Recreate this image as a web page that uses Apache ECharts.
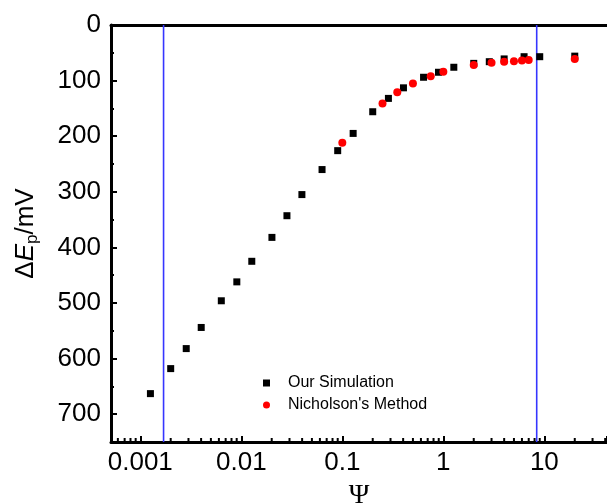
<!DOCTYPE html>
<html><head><meta charset="utf-8">
<script src="https://cdn.jsdelivr.net/npm/echarts@6/dist/echarts.min.js"></script>
<style>html,body{margin:0;padding:0;background:#fff}#c{width:607px;height:504px}</style>
</head><body><div id="c"></div>
<script>
// Our Simulation (black squares)
const simPsi = [0.00126,0.0020,0.00285,0.00401,0.00634,0.00903,0.0127,0.0201,0.0283,0.0398,0.063,0.090,0.128,0.200,0.286,0.403,0.637,0.895,1.27,2.0,2.85,4.0,6.3,9.0,20];
const simDEp = [663,618,582,544,496,462,425,382,343,305,260,226,195,156,132,113,94,85,76,69,66,61,57,57,56];
// Nicholson's Method (red circles)
const nichPsi = [0.1,0.25,0.35,0.5,0.75,1,2,3,4,5,6,7,20];
const nichDEp = [212,141,121,105,92,84,72,68,66,65,64,63,61];
// vertical reference lines
const boundaryPsi = [0.0017, 8.4];
// tick labels
const xTickLabels = ['0.001','0.01','0.1','1','10'];
const yTickLabels = ['0','100','200','300','400','500','600','700'];
// log minor tick multipliers and decades
const minorSteps = [2,3,4,5,6,7,8,9];
const decades = [-4,-3,-2,-1,0,1];

const xMin = 0.000513, xMax = 41.7, yMin = 0, yMax = 750;

const minorTicks = [];
decades.forEach(d => minorSteps.forEach(s => {
  const v = s * Math.pow(10, d);
  if (v > xMin && v < xMax) minorTicks.push([v, yMax]);
}));

const FONT = 'Liberation Sans';
const boundarySeries = boundaryPsi.map((x, i) => ({
  name: 'boundary' + i, type: 'line', silent: true, symbol: 'none', z: 1,
  lineStyle: {color: '#3535ff', width: 1.6},
  data: [[x, yMin], [x, yMax]]
}));

const chart = echarts.init(document.getElementById('c'), null, {renderer:'canvas'});
chart.setOption({
  animation: false,
  backgroundColor: '#fff',
  grid: {left: 111, top: 25, right: 0, bottom: 62, containLabel: false, outerBoundsMode: 'none'},
  legend: {
    orient: 'vertical', left: 258, top: 370,
    itemWidth: 7, itemHeight: 7, itemGap: 6,
    textStyle: {fontFamily: FONT, fontSize: 16, color: '#000', padding: [0,0,0,13], lineHeight: 16},
    data: [{name: 'Our Simulation', icon: 'rect'}, {name: "Nicholson's Method", icon: 'circle'}]
  },
  xAxis: [{
    type: 'log', logBase: 10, min: xMin, max: xMax, position: 'bottom',
    name: 'Ψ', nameLocation: 'middle', nameGap: 40,
    nameTextStyle: {fontFamily: 'Liberation Serif', fontSize: 28, color: '#000'},
    axisLine: {show: true, onZero: false, lineStyle: {color: '#000', width: 3}},
    axisTick: {show: true, inside: true, length: 6, lineStyle: {color: '#000', width: 2}},
    axisLabel: {fontFamily: FONT, fontSize: 26, color: '#000', margin: 8,
      formatter: v => { const i = xTickLabels.findIndex(t => Math.abs(Number(t) - v) / v < 1e-6); return i >= 0 ? xTickLabels[i] : ''; }},
    splitLine: {show: false}
  }, {
    type: 'log', logBase: 10, min: xMin, max: xMax, position: 'top',
    axisLine: {show: true, onZero: false, lineStyle: {color: '#000', width: 3}},
    axisTick: {show: false}, axisLabel: {show: false}, splitLine: {show: false}
  }],
  yAxis: {
    type: 'value', inverse: true, min: yMin, max: yMax, interval: 100,
    name: '{d|Δ}{e|E}{s|p}{d|/mV}', nameLocation: 'middle', nameGap: 70, nameRotate: 90,
    nameTextStyle: {rich: {
      d: {fontFamily: FONT, fontSize: 26, color: '#000', lineHeight: 30},
      e: {fontFamily: FONT, fontSize: 26, color: '#000', fontStyle: 'italic', lineHeight: 30},
      s: {fontFamily: FONT, fontSize: 17, color: '#000', lineHeight: 12, verticalAlign: 'bottom'}
    }},
    axisLine: {show: true, onZero: false, lineStyle: {color: '#000', width: 3}},
    axisTick: {show: true, inside: true, length: 6, lineStyle: {color: '#000', width: 2}},
    minorTick: {show: true, splitNumber: 2, length: 3, lineStyle: {color: '#000', width: 2}},
    axisLabel: {fontFamily: FONT, fontSize: 26, color: '#000', margin: 10,
      formatter: v => yTickLabels.includes(String(v)) ? String(v) : ''},
    splitLine: {show: false}
  },
  series: [
    {
      name: 'minor', type: 'scatter', silent: true, clip: false, z: 1,
      symbol: 'rect', symbolSize: [2, 3], symbolOffset: [0, -2.5],
      itemStyle: {color: '#000', opacity: 1}, data: minorTicks
    },
    ...boundarySeries,
    {
      name: 'Our Simulation', type: 'scatter', symbol: 'rect', symbolSize: 7,
      itemStyle: {color: '#000', opacity: 1}, data: simPsi.map((x, i) => [x, simDEp[i]])
    },
    {
      name: "Nicholson's Method", type: 'scatter', symbol: 'circle', symbolSize: 8,
      itemStyle: {color: '#ff0000', opacity: 1}, data: nichPsi.map((x, i) => [x, nichDEp[i]])
    }
  ]
});
</script></body></html>
